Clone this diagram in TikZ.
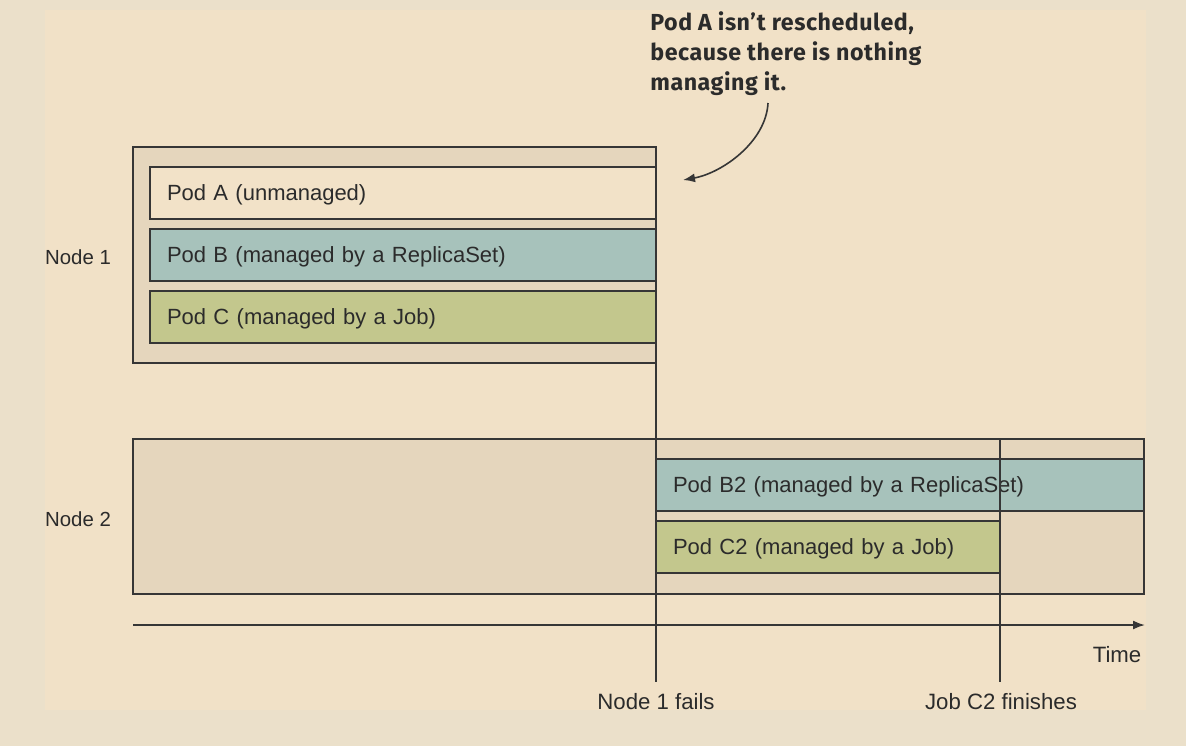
\documentclass[tikz,border=0pt]{standalone}
\usepackage{fontspec}
\setmainfont{Liberation Sans}
\newfontfamily\notefont{Fira Sans}[LetterSpace=2.3]
\usetikzlibrary{arrows.meta}
\definecolor{outerbg}{HTML}{EBE0CA}
\definecolor{innerbg}{HTML}{F1E1C7}
\definecolor{hostfill}{HTML}{E5D6BD}
\definecolor{podA}{HTML}{F2E2C8}
\definecolor{podB}{HTML}{A7C2BB}
\definecolor{podC}{HTML}{C3C78D}
\definecolor{ink}{HTML}{363636}
\definecolor{txt}{HTML}{2B2B2B}
\begin{document}
\begin{tikzpicture}[x=0.5pt,y=-0.5pt,
  hostbox/.style={draw=ink, line width=1.3pt, fill=hostfill, inner sep=0pt, outer sep=0pt, anchor=north west},
  podbox/.style={draw=ink, line width=1.3pt, inner xsep=8.5pt, inner ysep=0pt, outer sep=0pt, anchor=north west,
    align=left, font=\fontsize{11}{13}\selectfont, text=txt, minimum height=26pt,
    text height=10.6pt, text depth=2.7pt},
  lbl/.style={font=\fontsize{11.1}{13}\selectfont, text=txt, inner sep=0pt},
  hostlbl/.style={font=\fontsize{10.2}{12}\selectfont, text=txt, inner sep=0pt},
  marker/.style={draw=ink, line width=0.9pt},
  tip/.style={-{Latex[length=6pt,width=4.5pt]}}
]
\useasboundingbox (0,0) rectangle (1186,746);
\fill[outerbg] (0,0) rectangle (1186,746);
\fill[innerbg] (45,10) rectangle (1146,710);

% hosts
\node[hostbox, minimum width=261.5pt, minimum height=108pt] (n1) at (133,147) {};
\node[hostbox, minimum width=505.5pt, minimum height=77.5pt] (n2) at (133,439) {};

% pods on node 1
\node[podbox, fill=podA, text width=236pt] (pa) at (150,167) {Pod A (unmanaged)};
\node[podbox, fill=podB, text width=236pt] (pb) at (150,229) {Pod B (managed by a ReplicaSet)};
\node[podbox, fill=podC, text width=236pt] (pc) at (150,291) {Pod C (managed by a Job)};

% pods on node 2
\node[podbox, fill=podB, text width=227pt] (pb2) at (656,459) {Pod B2 (managed by a ReplicaSet)};
\node[podbox, fill=podC, text width=155pt] (pc2) at (656,521) {Pod C2 (managed by a Job)};

% host labels
\node[hostlbl] (l1) at (78,257) {Node 1};
\node[hostlbl] (l2) at (78,519) {Node 2};

% event markers
\coordinate (failend) at (656,682);
\coordinate (jobend) at (1000,682);
\draw[marker] (n1.north east) -- (failend);
\draw[marker] (pc2.north east |- n2.north) -- (jobend);
\node[lbl] (fail) at (656,702) {Node 1 fails};
\node[lbl] (job) at (1001,702) {Job C2 finishes};

% time axis
\coordinate (t0) at (133,625);
\coordinate (t1) at (1145,625);
\draw[marker, tip] (t0) -- (t1);
\node[lbl] (time) at (1117,655) {Time};

% annotation
\node[anchor=north west, align=left, inner sep=0pt, text=txt,
  font=\notefont\bfseries\fontsize{11.6}{15}\selectfont] (note) at (650,11)
  {Pod A isn’t rescheduled,\\because there is nothing\\managing it.};
\coordinate (nstart) at (768,103);
\coordinate (ntarget) at (683,180);
\draw[ink, line width=0.8pt, tip] (nstart) .. controls (766,142) and (722,173) .. (ntarget);
\end{tikzpicture}
\end{document}
